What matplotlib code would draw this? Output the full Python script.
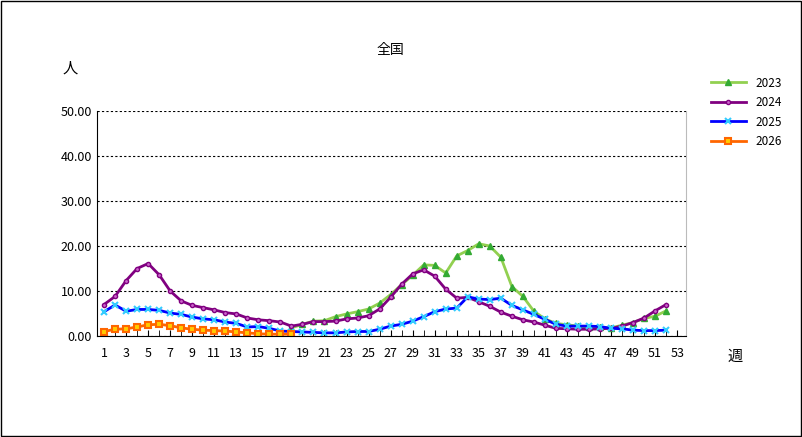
import matplotlib
matplotlib.use("Agg")
import matplotlib.pyplot as plt
from matplotlib.ticker import MultipleLocator, FormatStrFormatter

plt.rcParams['font.family'] = ['Noto Sans CJK JP', 'DejaVu Sans']

weeks = list(range(1, 53))
w2023 = list(range(18, 53))
v2023 = [1.8, 2.6, 3.3, 3.4, 4.3, 4.9, 5.4, 6.0, 7.3, 9.2, 11.4, 13.5, 15.8, 15.7, 14.0,
         17.8, 19.0, 20.5, 20.0, 17.5, 11.0, 8.8, 5.5, 3.8, 2.8, 2.5, 2.2, 2.0, 1.9, 1.8,
         2.4, 3.0, 3.9, 4.4, 5.6]
v2024 = [7.0, 8.8, 12.3, 15.0, 16.1, 13.6, 10.0, 7.8, 6.8, 6.3, 5.8, 5.2, 4.9, 4.0, 3.6,
         3.4, 3.1, 2.2, 2.6, 3.2, 3.2, 3.3, 3.8, 4.0, 4.5, 6.0, 8.6, 11.5, 13.8, 14.7, 13.3,
         10.4, 8.4, 8.6, 7.6, 6.6, 5.3, 4.4, 3.6, 3.1, 2.4, 1.7, 1.6, 1.5, 1.5, 1.6, 1.7,
         2.2, 3.0, 4.0, 5.6, 7.0]
v2025 = [5.4, 6.9, 5.5, 5.9, 5.9, 5.7, 5.1, 4.8, 4.2, 3.8, 3.6, 3.1, 2.8, 2.0, 2.1, 1.7,
         1.1, 1.0, 0.9, 0.8, 0.7, 0.7, 0.9, 1.0, 1.0, 1.5, 2.2, 2.6, 3.3, 4.3, 5.4, 6.0,
         6.2, 8.7, 8.2, 8.1, 8.4, 6.8, 5.8, 4.8, 3.7, 2.6, 2.2, 2.2, 2.2, 2.1, 1.7, 1.6,
         1.3, 1.2, 1.2, 1.3]
w2026 = list(range(1, 19))
v2026 = [1.0, 1.5, 1.6, 2.0, 2.5, 2.6, 2.3, 1.8, 1.5, 1.3, 1.2, 1.1, 0.9, 0.7, 0.5, 0.4,
         0.4, 0.4]

fig = plt.figure(figsize=(8.03, 4.37), dpi=100)
fig.patches.append(plt.Rectangle((0.001, 0.002), 0.997, 0.996, transform=fig.transFigure,
                                 fill=False, edgecolor='black', linewidth=1))
ax = fig.add_axes([97/803, 1-336/437, (686-97)/803, (336-111)/437])

ax.plot(w2023, v2023, color='#92D050', marker='^', markersize=4, lw=2,
        markerfacecolor='#33AA33', markeredgecolor='#33AA33', label='2023')
ax.plot(weeks, v2024, color='#800080', marker='o', markersize=3, lw=2,
        markerfacecolor='#CC66CC', markeredgecolor='#800080', label='2024')
ax.plot(weeks, v2025, color='#0000FF', marker='x', markersize=5, lw=2,
        markeredgecolor='#33CCFF', markeredgewidth=1.5, label='2025')
ax.plot(w2026, v2026, color='#FF6600', marker='s', markersize=5, lw=2,
        markerfacecolor='#FFCC00', markeredgecolor='#FF6600', markeredgewidth=1.5, label='2026')

ax.set_xlim(0.36, 53.8)
ax.set_ylim(0, 50)
ax.set_xticks(range(1, 54, 2))
ax.xaxis.set_minor_locator(MultipleLocator(1))
ax.yaxis.set_major_locator(MultipleLocator(10))
ax.yaxis.set_major_formatter(FormatStrFormatter('%.2f'))
ax.tick_params(axis='x', which='both', direction='in', length=4, labelsize=9, pad=8)
ax.tick_params(axis='y', direction='out', length=0, labelsize=9)
ax.grid(axis='y', color='black', linestyle=(0, (2, 2)), linewidth=0.8)
ax.spines['top'].set_visible(False)
ax.spines['right'].set_color('#BBBBBB')

fig.text(390/803, 1-50/437, '全国', ha='center', va='center', fontsize=10)
fig.text(70/803, 1-68/437, '人', ha='center', va='center', fontsize=11)
fig.text(735/803, 1-356/437, '週', ha='center', va='center', fontsize=11)
fig.legend(loc='upper left', bbox_to_anchor=(700/803, 1-66/437), frameon=False,
           fontsize=8.5, handlelength=3, labelspacing=0.55)
fig.savefig('out.png', dpi=100)
